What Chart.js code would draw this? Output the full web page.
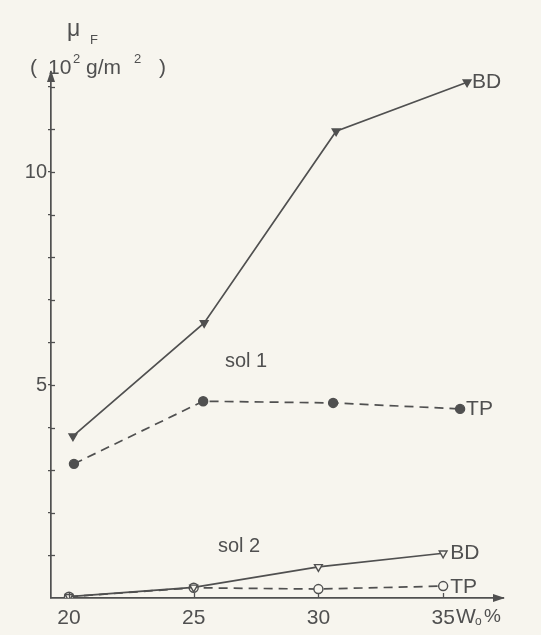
<!DOCTYPE html>
<html>
<head>
<meta charset="utf-8">
<script src="https://cdn.jsdelivr.net/npm/chart.js@4/dist/chart.umd.min.js"></script>
<style>
  html, body { margin: 0; padding: 0; background: #f7f5ee; }
  #wrap { width: 541px; height: 635px; }
</style>
</head>
<body>
<div id="wrap"><canvas id="c" width="541" height="635"></canvas></div>
<script>
// Water content W0 (%), axis ticks
const wContent = [20, 25, 30, 35];
// sol 1 points sit a little to the right of the ticks in the drawing
const sol1BDx = [20.16, 25.42, 30.71, 35.96];
const sol1TPx = [20.2, 25.38, 30.59, 35.68];
// mu_F in 10^2 g/m^2
const sol1BD = [3.8, 6.46, 10.96, 12.11];
const sol1TP = [3.15, 4.62, 4.58, 4.44];
const sol2BD = [0.03, 0.25, 0.73, 1.05];
const sol2TP = [0.03, 0.24, 0.21, 0.28];
const yLabelTicks = [5, 10];

const ink = '#505050';
const font = 'Liberation Sans, Arial, sans-serif';

function pts(xs, ys) { return xs.map((x, i) => ({ x: x, y: ys[i] })); }

// paper background
const paper = {
  id: 'paper',
  beforeDraw(chart) {
    const ctx = chart.ctx;
    ctx.save();
    ctx.fillStyle = '#f7f5ee';
    ctx.fillRect(0, 0, chart.width, chart.height);
    ctx.restore();
  }
};

// arrows, inner tick marks, end labels and titles
const notes = {
  id: 'notes',
  afterDraw(chart) {
    const ctx = chart.ctx;
    const xs = chart.scales.x, ys = chart.scales.y;
    const a = chart.chartArea;
    ctx.save();
    ctx.fillStyle = ink;
    ctx.strokeStyle = ink;
    ctx.lineWidth = 1.3;
    // inner part of y ticks
    ys.ticks.forEach(t => {
      const py = Math.round(ys.getPixelForValue(t.value)) + 0.5;
      ctx.beginPath();
      ctx.moveTo(a.left, py);
      ctx.lineTo(a.left + 4, py);
      ctx.stroke();
    });
    // x ticks point up
    wContent.forEach(v => {
      const px = Math.round(xs.getPixelForValue(v)) + 0.5;
      ctx.beginPath();
      ctx.moveTo(px, a.bottom);
      ctx.lineTo(px, a.bottom - 5);
      ctx.stroke();
    });
    // y arrow
    ctx.beginPath();
    ctx.moveTo(a.left, a.top - 2);
    ctx.lineTo(a.left - 4, a.top + 10);
    ctx.lineTo(a.left + 4, a.top + 10);
    ctx.closePath();
    ctx.fill();
    // x arrow
    ctx.beginPath();
    ctx.moveTo(a.right + 2, a.bottom);
    ctx.lineTo(a.right - 10, a.bottom - 4);
    ctx.lineTo(a.right - 10, a.bottom + 4);
    ctx.closePath();
    ctx.fill();

    ctx.textBaseline = 'middle';
    ctx.textAlign = 'left';
    ctx.font = '21px ' + font;
    ctx.fillText('BD', xs.getPixelForValue(sol1BDx[3]) + 5, ys.getPixelForValue(sol1BD[3]));
    ctx.fillText('TP', xs.getPixelForValue(sol1TPx[3]) + 6, ys.getPixelForValue(sol1TP[3]));
    const xEnd = xs.getPixelForValue(35) + 7;
    ctx.fillText('BD', xEnd, ys.getPixelForValue(sol2BD[3]));
    ctx.fillText('TP', xEnd, ys.getPixelForValue(sol2TP[3]) + 1);

    ctx.font = '20px ' + font;
    ctx.fillText('sol 1', 225, 361);
    ctx.fillText('sol 2', 218, 546);

    // x unit
    ctx.font = '21px ' + font;
    ctx.fillText('W', 456, 617);
    ctx.font = '12px ' + font;
    ctx.fillText('o', 475, 622);
    ctx.font = '19px ' + font;
    ctx.fillText('%', 484, 617);

    // y title
    ctx.font = '23px ' + font;
    ctx.fillText('\u03BC', 67, 30);
    ctx.font = '13px ' + font;
    ctx.fillText('F', 90, 40);
    ctx.font = '21px ' + font;
    ctx.fillText('(', 30, 68);
    ctx.fillText('10', 48, 68);
    ctx.fillText('g/m', 86, 68);
    ctx.fillText(')', 159, 68);
    ctx.font = '13px ' + font;
    ctx.fillText('2', 73, 59);
    ctx.fillText('2', 134, 59);
    ctx.restore();
  }
};

const common = {
  borderColor: ink,
  borderWidth: 1.7,
  pointBorderColor: ink,
  pointBorderWidth: 1.4,
  showLine: true,
  tension: 0
};

new Chart(document.getElementById('c'), {
  type: 'scatter',
  data: {
    datasets: [
      Object.assign({}, common, { label: 'sol 1 BD', data: pts(sol1BDx, sol1BD), pointStyle: 'triangle', pointRotation: 180, pointRadius: 4.5, pointBackgroundColor: ink }),
      Object.assign({}, common, { label: 'sol 1 TP', data: pts(sol1TPx, sol1TP), pointStyle: 'circle', pointRadius: 4.5, pointBackgroundColor: ink, borderDash: [9, 6] }),
      Object.assign({}, common, { label: 'sol 2 BD', data: pts(wContent, sol2BD), pointStyle: 'triangle', pointRotation: 180, pointRadius: 4.5, pointBackgroundColor: '#f7f5ee' }),
      Object.assign({}, common, { label: 'sol 2 TP', data: pts(wContent, sol2TP), pointStyle: 'circle', pointRadius: 4.5, pointBackgroundColor: '#f7f5ee', borderDash: [9, 6] })
    ]
  },
  options: {
    responsive: false,
    animation: false,
    layout: { padding: { top: 72, right: 38, left: 0, bottom: 0 } },
    plugins: { legend: { display: false }, tooltip: { enabled: false } },
    scales: {
      x: {
        type: 'linear',
        min: 19.28,
        max: 37.4,
        afterFit(s) { s.height = 37; },
        afterBuildTicks(s) { s.ticks = wContent.map(v => ({ value: v })); },
        border: { display: true, color: ink, width: 1.7 },
        grid: { drawOnChartArea: false, drawTicks: false, color: ink },
        ticks: {
          color: ink,
          padding: 8,
          font: { family: font, size: 21 },
          callback: v => String(v)
        }
      },
      y: {
        type: 'linear',
        min: 0,
        max: 12.35,
        afterFit(s) { s.width = 51; },
        afterBuildTicks(s) {
          const t = [];
          for (let v = 1; v <= 12; v++) t.push({ value: v });
          s.ticks = t;
        },
        border: { display: true, color: ink, width: 1.7 },
        grid: { drawOnChartArea: false, color: ink, tickLength: 3, lineWidth: 1.3 },
        ticks: {
          color: ink,
          padding: 1,
          font: { family: font, size: 20 },
          callback: v => yLabelTicks.includes(v) ? String(v) : ''
        }
      }
    }
  },
  plugins: [paper, notes]
});
</script>
</body>
</html>
